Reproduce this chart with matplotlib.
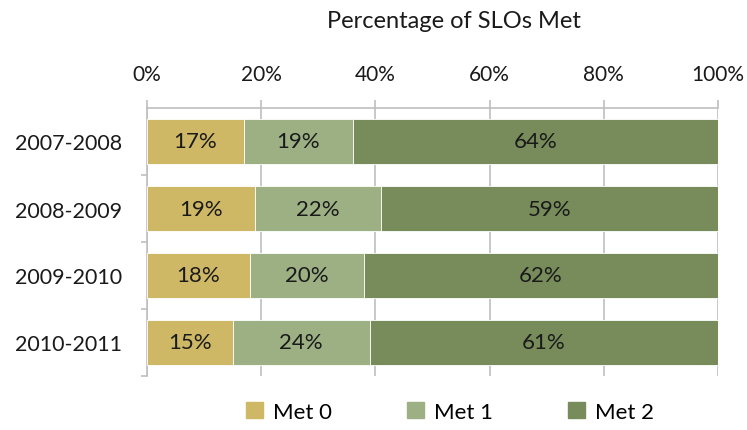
import matplotlib
matplotlib.use("Agg")
import matplotlib.pyplot as plt
import numpy as np

years = ["2007-2008", "2008-2009", "2009-2010", "2010-2011"]
met0 = [17, 19, 18, 15]
met1 = [19, 22, 20, 24]
met2 = [64, 59, 62, 61]
series_names = ["Met 0", "Met 1", "Met 2"]
colors = ["#CFB865", "#9CB084", "#778C5A"]
tick_values = [0, 20, 40, 60, 80, 100]

plt.rcParams["font.family"] = ["Lato", "DejaVu Sans"]
text_color = "#1a1a1a"
rule_color = "#BFBFBF"

fig = plt.figure(figsize=(7.47, 4.31), dpi=100)
ax = fig.add_axes([147 / 747, 1 - 377 / 431, 571 / 747, 268 / 431])

y = np.arange(len(years))
left = np.zeros(len(years))
for vals, name, col in zip([met0, met1, met2], series_names, colors):
    vals = np.array(vals, dtype=float)
    ax.barh(y, vals, left=left, height=0.66, color=col, label=name,
            edgecolor="white", linewidth=0.6, zorder=3)
    for yi, l, v in zip(y, left, vals):
        ax.text(l + v / 2, yi, f"{int(v)}%", ha="center", va="center",
                fontsize=16, color=text_color, zorder=4)
    left += vals

ax.set_xlim(0, 100)
ax.set_ylim(len(years) - 0.5, -0.5)
ax.xaxis.tick_top()
ax.set_xticks(tick_values)
ax.set_xticklabels([f"{v}%" for v in tick_values], fontsize=15, color=text_color)
ax.set_yticks(y)
ax.set_yticklabels(years, fontsize=15.5, color=text_color)
ax.tick_params(axis="y", length=0, pad=18)
ax.set_yticks(np.arange(len(years)) + 0.5, minor=True)
ax.tick_params(axis="y", which="minor", length=4.5, color=rule_color, width=1.2)
ax.tick_params(axis="x", length=5.5, color=rule_color, width=1.2, pad=12)

ax.grid(axis="x", color=rule_color, linewidth=1.2, zorder=0)
for s in ["right", "bottom"]:
    ax.spines[s].set_visible(False)
for s in ["top", "left"]:
    ax.spines[s].set_color(rule_color)
    ax.spines[s].set_linewidth(1.2)

fig.text(454 / 747, 1 - 21 / 431, "Percentage of SLOs Met", ha="center",
         va="center", fontsize=17, color=text_color)

handles = [plt.Rectangle((0, 0), 1, 1, color=c) for c in colors]
fig.legend(handles, series_names, loc="center", bbox_to_anchor=(450 / 747, 1 - 413 / 431),
           ncol=3, frameon=False, fontsize=16, handlelength=0.75, handleheight=0.75,
           columnspacing=3.4, handletextpad=0.45)

fig.savefig("out.png", dpi=100)
